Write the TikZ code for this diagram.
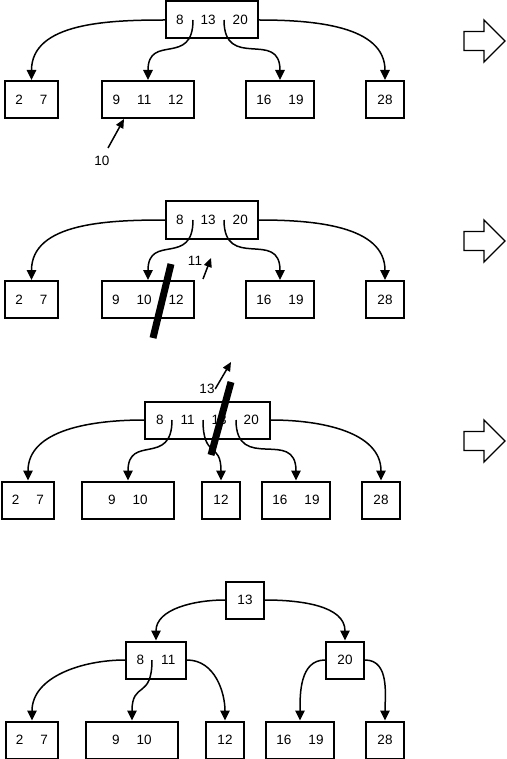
\documentclass[tikz,border=0pt]{standalone}
\usepackage{fontspec}
\setmainfont{Liberation Sans}
\usetikzlibrary{arrows.meta}
\newcommand{\kgap}{\hspace{17pt}}

\begin{document}
\begin{tikzpicture}[x=1pt,y=-1pt,font=\fontsize{13.5}{16}\selectfont,
  key/.style={draw,line width=2pt,minimum height=37pt,inner sep=0pt},
  link/.style={line width=1.5pt,-{Triangle[length=10pt,width=9.5pt]}},
  hop/.style={line width=1.5pt,-{Triangle[length=9pt,width=8pt]}},
  strike/.style={line width=7pt},
  tag/.style={inner sep=0.5pt}]
  \useasboundingbox (0,0) rectangle (506,759);

  \node[key,minimum width=92pt] (r1) at (212,20) {8\kgap13\kgap20};
  \node[key,minimum width=53pt] (a1) at (31.5,99.5) {2\kgap7};
  \node[key,minimum width=92pt] (b1) at (148,99.5) {9\kgap11\kgap12};
  \node[key,minimum width=68pt] (c1) at (280,99.5) {16\kgap19};
  \node[key,minimum width=38pt] (d1) at (385,99.5) {28};
  \draw[link] (r1.west) to[out=180,in=90] (a1.north);
  \draw[link] ([xshift=-19pt]r1.center) to[out=-90,in=90,looseness=1.6] (b1.north);
  \draw[link] ([xshift=12pt]r1.center) to[out=-90,in=90,looseness=1.6] (c1.north);
  \draw[link] (r1.east) to[out=0,in=90] (d1.north);
  \node[tag] (l10) at (102,161) {10};
  \draw[hop] ([xshift=6pt,yshift=13pt]l10.center) -- ([xshift=-24pt]b1.south);

  \node[key,minimum width=92pt] (r2) at (212,220) {8\kgap13\kgap20};
  \node[key,minimum width=53pt] (a2) at (31.5,299.5) {2\kgap7};
  \node[key,minimum width=92pt] (b2) at (148,299.5) {9\kgap10\kgap12};
  \node[key,minimum width=68pt] (c2) at (280,299.5) {16\kgap19};
  \node[key,minimum width=38pt] (d2) at (385,299.5) {28};
  \draw[link] (r2.west) to[out=180,in=90] (a2.north);
  \draw[link] ([xshift=-19pt]r2.center) to[out=-90,in=90,looseness=1.6] (b2.north);
  \draw[link] ([xshift=12pt]r2.center) to[out=-90,in=90,looseness=1.6] (c2.north);
  \draw[link] (r2.east) to[out=0,in=90] (d2.north);
  \draw[strike] (153,338) -- (171,264);
  \node[tag] (l11) at (195,261) {11};
  \coordinate (s11) at (203,279);
  \coordinate (t11) at (211,258);
  \draw[hop] (s11) -- (t11);

  \node[key,minimum width=125pt] (r3) at (207.5,420) {8\kgap11\kgap13\kgap20};
  \node[key,minimum width=52pt] (a3) at (28,500) {2\kgap7};
  \node[key,minimum width=92pt] (b3) at (128,500) {9\kgap10};
  \node[key,minimum width=38pt] (e3) at (221,500) {12};
  \node[key,minimum width=68pt] (c3) at (296,500) {16\kgap19};
  \node[key,minimum width=38pt] (d3) at (381,500) {28};
  \draw[link] (r3.west) to[out=180,in=90] (a3.north);
  \draw[link] ([xshift=-35.5pt]r3.center) to[out=-90,in=90,looseness=1.6] (b3.north);
  \draw[link] ([xshift=-4.5pt]r3.center) to[out=-90,in=90,looseness=1.6] (e3.north);
  \draw[link] ([xshift=28.5pt]r3.center) to[out=-90,in=90,looseness=1.6] (c3.north);
  \draw[link] (r3.east) to[out=0,in=90] (d3.north);
  \draw[strike] (211,455) -- (231,382);
  \node[tag] (l13) at (207,389) {13};
  \coordinate (t13) at (231,362);
  \draw[hop] (l13.east) -- (t13);

  \node[key,minimum width=38pt] (t4) at (245,600) {13};
  \node[key,minimum width=60pt] (l4) at (156,660) {8\kgap11};
  \node[key,minimum width=38pt] (m4) at (345,660) {20};
  \node[key,minimum width=52pt] (a4) at (32,740) {2\kgap7};
  \node[key,minimum width=92pt] (b4) at (132,740) {9\kgap10};
  \node[key,minimum width=38pt] (e4) at (225,740) {12};
  \node[key,minimum width=68pt] (c4) at (300,740) {16\kgap19};
  \node[key,minimum width=38pt] (d4) at (385,740) {28};
  \draw[link] (t4.west) to[out=180,in=90] (l4.north);
  \draw[link] (t4.east) to[out=0,in=90] (m4.north);
  \draw[link] (l4.west) to[out=180,in=90] (a4.north);
  \draw[link] ([xshift=-4pt]l4.center) to[out=-90,in=90,looseness=1.6] (b4.north);
  \draw[link] (l4.east) to[out=0,in=90] (e4.north);
  \draw[link] (m4.west) to[out=180,in=90] (c4.north);
  \draw[link] (m4.east) to[out=0,in=90] (d4.north);

  \foreach \y in {41,241,441}
    \draw[line width=1.3pt] (464,\y-9.5) -- (484,\y-9.5) -- (484,\y-21) -- (505,\y)
      -- (484,\y+21) -- (484,\y+9.5) -- (464,\y+9.5) -- cycle;
\end{tikzpicture}
\end{document}
